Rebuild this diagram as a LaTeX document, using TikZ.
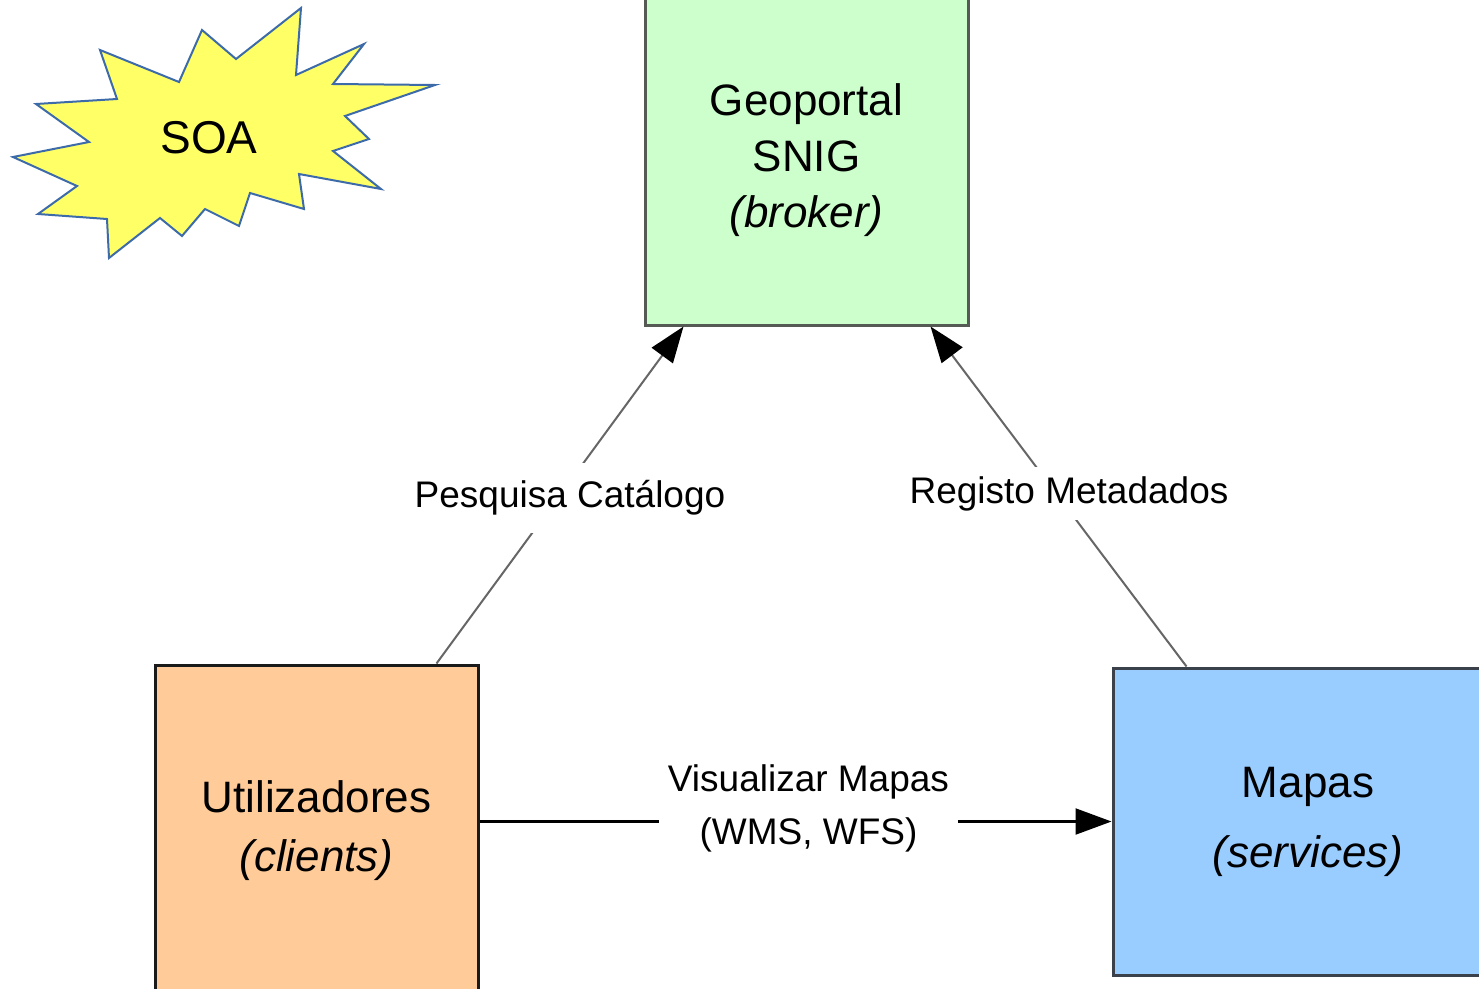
\documentclass[tikz,border=0pt]{standalone}
\usepackage{fontspec}
\setmainfont{Liberation Sans}
\usetikzlibrary{arrows.meta}
\definecolor{starfill}{HTML}{FFFF66}
\definecolor{starline}{HTML}{3D6BAA}
\definecolor{geofill}{HTML}{CCFFCC}
\definecolor{geoline}{HTML}{555A55}
\definecolor{userfill}{HTML}{FFCC99}
\definecolor{userline}{HTML}{1A1A1A}
\definecolor{mapfill}{HTML}{99CCFF}
\definecolor{mapline}{HTML}{3A414A}
\definecolor{conngray}{HTML}{666666}
\begin{document}
\begin{tikzpicture}[x=1pt,y=-1pt,
  box/.style={draw, line width=3pt, rectangle, align=center, inner sep=0pt},
  lbl/.style={fill=white, inner sep=0pt, align=center, font=\fontsize{37}{53}\selectfont},
  tipend/.style={-{Triangle[length=36pt,width=26pt,color=black]}},
]
\useasboundingbox (0,0) rectangle (1479,988);
\begin{scope}
\clip (0,0) rectangle (1479,988);
% star
\filldraw[fill=starfill, draw=starline, line width=2pt, line join=miter]
  (100,50) -- (117,99) -- (36,104) -- (89,142) -- (13,157) -- (77,186) -- (38,214)
  -- (107,219) -- (109,258) -- (160,218) -- (182,236) -- (205,209) -- (239,226)
  -- (250,193) -- (304,209) -- (299,174) -- (381,189) -- (333,151) -- (369,139)
  -- (345,116) -- (435,85) -- (333,84) -- (364,44) -- (296,75) -- (301,8)
  -- (236,59) -- (202,30) -- (179,82) -- cycle;
\node[font=\fontsize{46}{46}\selectfont] (soa) at (209,138) {SOA};
% boxes
\node[box, fill=geofill, draw=geoline, minimum width=323pt, minimum height=330pt,
  font=\fontsize{44}{56}\selectfont] (geo) at (806.5,160) {Geoportal\\SNIG\\\textit{(broker)}};
\node[box, fill=userfill, draw=userline, minimum width=323pt, minimum height=332pt,
  font=\fontsize{44}{59}\selectfont] (user) at (316.5,831) {Utilizadores\\\textit{(clients)}};
\node[box, fill=mapfill, draw=mapline, minimum width=390pt, minimum height=307pt,
  font=\fontsize{44}{70}\selectfont] (map) at (1308,821.5) {Mapas\\\textit{(services)}};
% connector end points
\coordinate (pa) at ([xshift=283pt]user.north west);
\coordinate (pb) at ([xshift=40pt]geo.south west);
\coordinate (pc) at ([xshift=75pt]map.north west);
\coordinate (pd) at ([xshift=287pt]geo.south west);
% connectors
\draw[conngray, line width=2pt, tipend] (pa) -- (pb);
\draw[conngray, line width=2pt, tipend] (pc) -- (pd);
\draw[black, line width=2.2pt, tipend] (user.east |- map.west) -- (map.west);
% labels
\node[lbl, minimum height=70pt] (lp) at (570,498) {Pesquisa Catálogo};
\node[lbl, minimum height=53pt] (lr) at (1069,493.5) {Registo Metadados};
\node[lbl, minimum width=299pt] (lv) at (808.5,808) {Visualizar Mapas\\(WMS, WFS)};
\end{scope}
\end{tikzpicture}
\end{document}
